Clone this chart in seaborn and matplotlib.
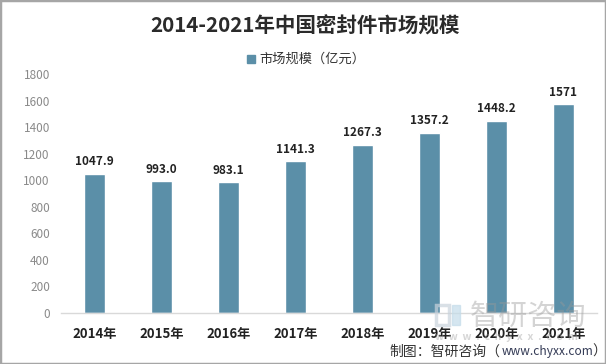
import matplotlib
matplotlib.use("Agg")
import matplotlib.pyplot as plt
from matplotlib.patches import Rectangle
import pandas as pd
import seaborn as sns

years = ["2014年", "2015年", "2016年", "2017年", "2018年", "2019年", "2020年", "2021年"]
market_size = [1047.9, 993.0, 983.1, 1141.3, 1267.3, 1357.2, 1448.2, 1571]
value_labels = ["1047.9", "993.0", "983.1", "1141.3", "1267.3", "1357.2", "1448.2", "1571"]
y_ticks = [0, 200, 400, 600, 800, 1000, 1200, 1400, 1600, 1800]

bar_color = "#5b8fa8"
W, H = 606, 364

sns.set_theme(style="white")
plt.rcParams['font.family'] = ['Noto Sans CJK SC', 'DejaVu Sans']

fig = plt.figure(figsize=(W / 100, H / 100), dpi=100)
ax = fig.add_axes([61 / W, 1 - 313 / H, 536 / W, 239 / H])

df = pd.DataFrame({"year": years, "size": market_size})
sns.barplot(data=df, x="year", y="size", color=bar_color, saturation=1, width=0.32, ax=ax)

ax.set_xlim(-0.5, 7.5)
ax.set_ylim(0, 1800)
ax.set_yticks(y_ticks)
ax.set_xlabel("")
ax.set_ylabel("")
sns.despine(ax=ax, left=True)
ax.spines["bottom"].set_color("#d9d9d9")
ax.spines["bottom"].set_linewidth(1)
ax.tick_params(axis="y", length=0, labelsize=8.5, labelcolor="#8a8a8a", pad=8)
ax.tick_params(axis="x", length=0, labelsize=9.5, labelcolor="#222222", pad=10)
for lab in ax.get_xticklabels():
    lab.set_fontweight("bold")

for bars in ax.containers:
    ax.bar_label(bars, labels=value_labels, padding=4, fontsize=8.5, fontweight="bold", color="#222222")

# title and legend
fig.text(305 / W, 1 - 26 / H, "2014-2021年中国密封件市场规模", ha="center", va="center",
         fontsize=14.8, fontweight="bold", color="#2b2b2b")
fig.patches.append(Rectangle((247 / W, 1 - 63 / H), 8 / W, 8 / H, transform=fig.transFigure, color=bar_color))
fig.text(259 / W, 1 - 59 / H, "市场规模（亿元）", ha="left", va="center", fontsize=9.5, color="#333333")

# watermark
fig.patches.append(Rectangle((436 / W, 1 - 325 / H), 13 / W, 20 / H, transform=fig.transFigure,
                             fill=False, ec="#c9d3dc", lw=2.5, alpha=0.7))
fig.patches.append(Rectangle((452 / W, 1 - 325 / H), 8 / W, 20 / H, transform=fig.transFigure,
                             color="#c4dcea", alpha=0.7))
fig.text(470 / W, 1 - 317 / H, "智研咨询", ha="left", va="center", fontsize=21, color="#999999", alpha=0.42)
fig.text(435 / W, 1 - 337 / H, "w  w  w  .  c  h  y  x  x  .  c  o  m", ha="left", va="center", fontsize=7.5,
         color="#999999", alpha=0.4, fontweight="bold")

# source
fig.text(389 / W, 1 - 352 / H, "制图：智研咨询（", ha="left", va="center", fontsize=10, color="#333333")
fig.text(502 / W, 1 - 352 / H, "www.chyxx.com", ha="left", va="center", fontsize=8.6, color="#333a55")
fig.text(592 / W, 1 - 352 / H, "）", ha="left", va="center", fontsize=10, color="#333333")

# outer border
fig.patches.append(Rectangle((0, 0), 1, 1, transform=fig.transFigure, fill=False, ec="#a6a6a6", lw=2.5))

fig.savefig("out.png", dpi=100)
